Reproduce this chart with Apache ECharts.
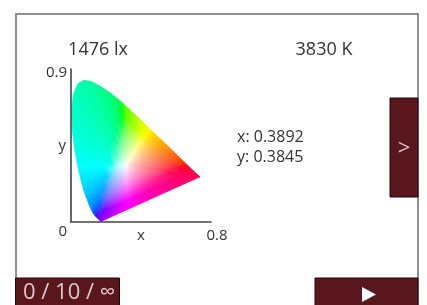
<!DOCTYPE html>
<html lang="en">
<head>
<meta charset="UTF-8">
<title>CIE 1931 xy</title>
<style>
  html, body { margin: 0; padding: 0; background: #fff; }
  #main { width: 427px; height: 305px; }
</style>
</head>
<body>
<div id="main"></div>
<script src="https://cdn.jsdelivr.net/npm/echarts@6/dist/echarts.min.js"></script>
<script>
// readings shown on the screen
var lux = 1476;
var cct = 3830;
var chromaX = 0.3892;
var chromaY = 0.3845;
var counter = ['0', '10', '\u221e'];

// CIE 1931 2deg spectral locus, 380..700 nm
var locusX = [0.1741, 0.1740, 0.1738, 0.1736, 0.1733, 0.1730, 0.1726, 0.1721, 0.1714, 0.1703,
  0.1689, 0.1669, 0.1644, 0.1611, 0.1566, 0.1510, 0.1440, 0.1355, 0.1241, 0.1096,
  0.0913, 0.0687, 0.0454, 0.0235, 0.0082, 0.0039, 0.0139, 0.0389, 0.0743, 0.1142,
  0.1547, 0.1929, 0.2296, 0.2658, 0.3016, 0.3373, 0.3731, 0.4087, 0.4441, 0.4788,
  0.5125, 0.5448, 0.5752, 0.6029, 0.6270, 0.6482, 0.6658, 0.6801, 0.6915, 0.7006,
  0.7079, 0.7140, 0.7190, 0.7230, 0.7260, 0.7283, 0.7300, 0.7311, 0.7320, 0.7334,
  0.7344, 0.7347];
var locusY = [0.0050, 0.0050, 0.0049, 0.0049, 0.0048, 0.0048, 0.0048, 0.0048, 0.0051, 0.0058,
  0.0069, 0.0086, 0.0109, 0.0138, 0.0177, 0.0227, 0.0297, 0.0399, 0.0578, 0.0868,
  0.1327, 0.2007, 0.2950, 0.4127, 0.5384, 0.6548, 0.7502, 0.8120, 0.8338, 0.8262,
  0.8059, 0.7816, 0.7543, 0.7243, 0.6923, 0.6589, 0.6245, 0.5896, 0.5547, 0.5202,
  0.4866, 0.4544, 0.4242, 0.3965, 0.3725, 0.3514, 0.3340, 0.3197, 0.3083, 0.2993,
  0.2920, 0.2859, 0.2809, 0.2770, 0.2740, 0.2717, 0.2700, 0.2689, 0.2680, 0.2666,
  0.2656, 0.2653];
var whitePoint = [0.3127, 0.3290];

var xTicks = [0, 0.8];
var yTicks = [0, 0.9];

var maroon = '#5a161d';
var font = '"Open Sans", "Noto Sans", sans-serif';

// xy chromaticity -> displayable sRGB (desaturate out-of-gamut, full brightness)
function chromaColor(x, y) {
  var X = x / y, Z = (1 - x - y) / y;
  var r = 3.2406 * X - 1.5372 - 0.4986 * Z;
  var g = -0.9689 * X + 1.8758 + 0.0415 * Z;
  var b = 0.0557 * X - 0.2040 + 1.0570 * Z;
  var lo = Math.min(r, g, b, 0);
  r -= lo; g -= lo; b -= lo;
  var hi = Math.max(r, g, b);
  return 'rgb(' + [r, g, b].map(function (c) {
    c = c / hi;
    c = c <= 0.0031308 ? 12.92 * c : 1.055 * Math.pow(c, 1 / 2.4) - 0.055;
    return Math.round(255 * c);
  }).join(',') + ')';
}

// boundary segments (spectral locus + line of purples)
var segments = [];
for (var i = 0; i < locusX.length; i++) {
  var j = (i + 1) % locusX.length;
  segments.push([locusX[i], locusY[i], locusX[j], locusY[j]]);
}

var stopsT = [0, 0.05, 0.1, 0.2, 0.3, 0.45, 0.6, 0.8, 1];

function renderFan(params, api) {
  var a = [api.value(0), api.value(1)];
  var b = [api.value(2), api.value(3)];
  var len = Math.hypot(b[0] - a[0], b[1] - a[1]);
  var k = Math.max(1, Math.ceil(len / 0.03));
  var cw = api.coord(whitePoint);
  var children = [];
  for (var s = 0; s < k; s++) {
    var p = [a[0] + (b[0] - a[0]) * s / k, a[1] + (b[1] - a[1]) * s / k];
    var q = [a[0] + (b[0] - a[0]) * (s + 1) / k, a[1] + (b[1] - a[1]) * (s + 1) / k];
    var m = [(p[0] + q[0]) / 2, (p[1] + q[1]) / 2];
    var cp = api.coord(p), cq = api.coord(q);
    // foot of perpendicular from white point onto edge (pixel space)
    var dx = cq[0] - cp[0], dy = cq[1] - cp[1];
    var u = ((cw[0] - cp[0]) * dx + (cw[1] - cp[1]) * dy) / (dx * dx + dy * dy);
    var f = [cp[0] + u * dx, cp[1] + u * dy];
    var stops = stopsT.map(function (t) {
      return {
        offset: t,
        color: chromaColor(whitePoint[0] + t * (m[0] - whitePoint[0]), whitePoint[1] + t * (m[1] - whitePoint[1]))
      };
    });
    var grad = new echarts.graphic.LinearGradient(cw[0], cw[1], f[0], f[1], stops, true);
    children.push({
      type: 'polygon',
      shape: { points: [cw, cp, cq] },
      style: { fill: grad, stroke: grad, lineWidth: 0.8 }
    });
  }
  return { type: 'group', children: children };
}

var chart = echarts.init(document.getElementById('main'), null, { renderer: 'canvas' });

var labelColor = '#333';

chart.setOption({
  animation: false,
  backgroundColor: '#fff',
  grid: { left: 71, top: 69, width: 140, height: 153, outerBoundsMode: 'none' },
  xAxis: {
    type: 'value', min: xTicks[0], max: xTicks[1], interval: xTicks[1] - xTicks[0],
    z: 5,
    name: 'x', nameLocation: 'middle', nameGap: 6, nameMoveOverlap: false,
    nameTextStyle: { fontSize: 15, color: labelColor, fontFamily: font },
    axisLine: { lineStyle: { color: '#444', width: 1.6 } },
    axisTick: { show: false },
    splitLine: { show: false },
    axisLabel: {
      showMinLabel: false, margin: 6, fontSize: 15, color: labelColor, fontFamily: font,
      formatter: function (v) { return '{r|' + v + '}'; },
      rich: { r: { fontSize: 15, color: labelColor, fontFamily: font, padding: [0, 0, 0, 12] } }
    }
  },
  yAxis: {
    type: 'value', min: yTicks[0], max: yTicks[1], interval: yTicks[1] - yTicks[0],
    z: 5,
    name: 'y', nameLocation: 'middle', nameGap: 5, nameRotate: 0, nameMoveOverlap: false,
    nameTextStyle: { fontSize: 15, color: labelColor, fontFamily: font },
    axisLine: { lineStyle: { color: '#444', width: 1.6 } },
    axisTick: { show: false },
    splitLine: { show: false },
    axisLabel: {
      margin: 4, fontSize: 15, color: labelColor, fontFamily: font,
      formatter: function (v) { return v === 0 ? '{lo|0}' : '{hi|' + v + '}'; },
      rich: {
        lo: { fontSize: 15, color: labelColor, fontFamily: font, padding: [20, 0, 0, 0] },
        hi: { fontSize: 15, color: labelColor, fontFamily: font, padding: [8, 0, 0, 0] }
      }
    }
  },
  series: [{
    type: 'custom',
    z: 2,
    renderItem: renderFan,
    encode: { x: [0, 2], y: [1, 3] },
    data: segments,
    silent: true
  }],
  graphic: [
    { type: 'rect', z: -10, shape: { x: 16, y: 14, width: 402, height: 320 },
      style: { fill: 'none', stroke: '#8f8f8f', lineWidth: 2 } },
    { type: 'text', x: 98, y: 50,
      style: { text: lux + ' lx', fill: labelColor, font: '18px ' + font, align: 'center', verticalAlign: 'middle' } },
    { type: 'text', x: 324, y: 50,
      style: { text: cct + ' K', fill: labelColor, font: '18px ' + font, align: 'center', verticalAlign: 'middle' } },
    { type: 'text', x: 237, y: 137,
      style: { text: 'x: ' + chromaX.toFixed(4), fill: labelColor, font: '16px ' + font, align: 'left', verticalAlign: 'middle' } },
    { type: 'text', x: 237, y: 157,
      style: { text: 'y: ' + chromaY.toFixed(4), fill: labelColor, font: '16px ' + font, align: 'left', verticalAlign: 'middle' } },
    // side / bottom buttons
    { type: 'rect', shape: { x: 390, y: 98, width: 28, height: 99 },
      style: { fill: maroon, stroke: '#1e0a0c', lineWidth: 1 } },
    { type: 'text', x: 404, y: 149,
      style: { text: '>', fill: '#d8c4c6', font: '22px ' + font, align: 'center', verticalAlign: 'middle' } },
    { type: 'rect', shape: { x: 15.5, y: 278, width: 104, height: 30 },
      style: { fill: maroon, stroke: '#1e0a0c', lineWidth: 1 } },
    { type: 'text', x: 23, y: 293,
      style: { text: counter.join(' / '), fill: '#dccacc', font: '22px ' + font, align: 'left', verticalAlign: 'middle' } },
    { type: 'rect', shape: { x: 315, y: 278, width: 103, height: 30 },
      style: { fill: maroon, stroke: '#1e0a0c', lineWidth: 1 } },
    { type: 'polygon', shape: { points: [[362, 287], [362, 302], [376, 294.5]] },
      style: { fill: '#ffffff' } }
  ]
});
</script>
</body>
</html>
